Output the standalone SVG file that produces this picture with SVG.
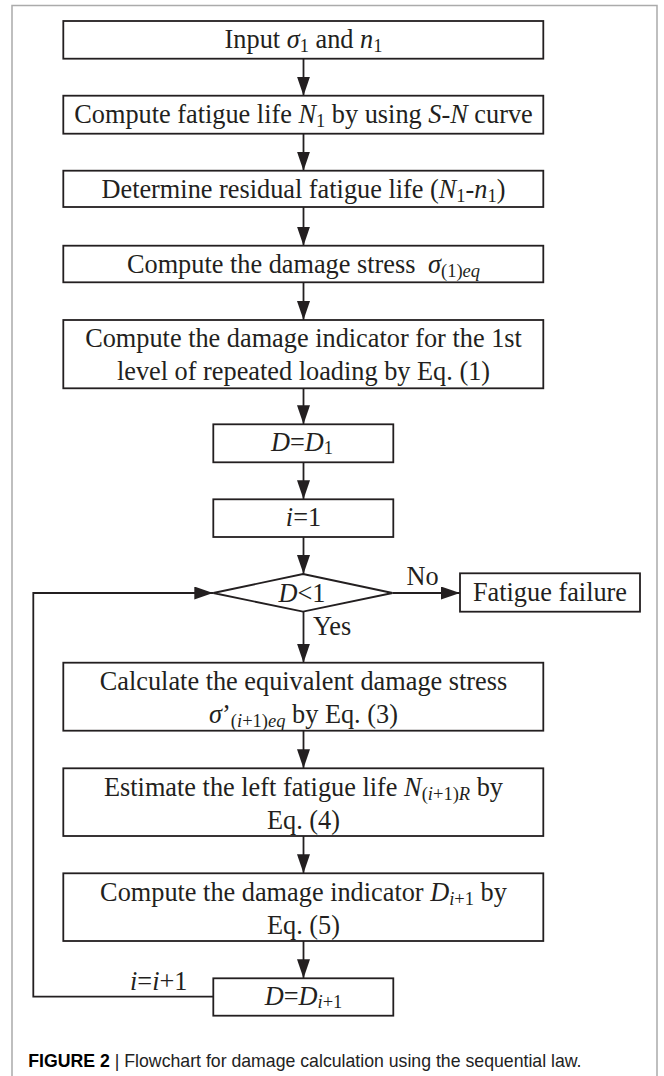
<svg xmlns="http://www.w3.org/2000/svg" width="664" height="1076" viewBox="0 0 664 1076">
<style>
.frame{fill:none;stroke:#ababab;stroke-width:1.5}
.box{fill:#fff;stroke:#231f20;stroke-width:1.8}
.t{font-family:"Liberation Serif","Times New Roman",serif;font-size:26.3px;fill:#231f20;text-anchor:middle}
.l{font-family:"Liberation Serif","Times New Roman",serif;font-size:26.3px;fill:#231f20}
.i{font-style:italic}
.s{font-size:18.5px}
.conn{fill:none;stroke:#231f20;stroke-width:1.8}
.cap{font-family:"Liberation Sans",Arial,sans-serif;font-size:17.7px;fill:#222}
</style>
<defs>
<marker id="ah" markerUnits="userSpaceOnUse" markerWidth="19" markerHeight="13" refX="19" refY="6.5" orient="auto">
<path d="M0,0 L19,6.5 L0,13 z" fill="#231f20"/>
</marker>
</defs>
<path class="frame" d="M12,1076 V5.5 H657 V1076"/>
<g id="connectors">
<path class="conn" d="M303.5,58.7 V95.7" marker-end="url(#ah)"/>
<path class="conn" d="M303.5,133.7 V170.7" marker-end="url(#ah)"/>
<path class="conn" d="M303.5,207 V245.7" marker-end="url(#ah)"/>
<path class="conn" d="M303.5,282.3 V320" marker-end="url(#ah)"/>
<path class="conn" d="M303.5,388.3 V424.3" marker-end="url(#ah)"/>
<path class="conn" d="M303.5,462.3 V499.3" marker-end="url(#ah)"/>
<path class="conn" d="M303.5,537 V574" marker-end="url(#ah)"/>
<path class="conn" d="M392.5,593 H460" marker-end="url(#ah)"/>
<path class="conn" d="M303.5,611.7 V662.7" marker-end="url(#ah)"/>
<path class="conn" d="M303.5,730.7 V768.3" marker-end="url(#ah)"/>
<path class="conn" d="M303.5,836 V873.3" marker-end="url(#ah)"/>
<path class="conn" d="M303.5,941 V978.3" marker-end="url(#ah)"/>
<path class="conn" d="M213.3,996.7 H33.3 V593 H213.3" marker-end="url(#ah)"/>
<text class="l" x="406.5" y="585">No</text>
<text class="l" x="313" y="635">Yes</text>
<text class="l" x="130" y="990"><tspan class="i">i</tspan>=<tspan class="i">i</tspan>+1</text>
</g>
<g id="n1">
<rect class="box" x="63.3" y="21" width="480" height="37.7"/>
<text class="t" x="303.5" y="48">Input <tspan class="i">σ</tspan><tspan class="s" dy="4">1</tspan><tspan dy="-4"> and </tspan><tspan class="i">n</tspan><tspan class="s" dy="4">1</tspan></text>
</g>
<g id="n2">
<rect class="box" x="63.3" y="95.7" width="480" height="38"/>
<text class="t" x="303.5" y="122.7">Compute fatigue life <tspan class="i">N</tspan><tspan class="s" dy="4">1</tspan><tspan dy="-4"> by using </tspan><tspan class="i">S</tspan>-<tspan class="i">N</tspan> curve</text>
</g>
<g id="n3">
<rect class="box" x="63.3" y="170.7" width="480" height="36.3"/>
<text class="t" x="303.5" y="197.7">Determine residual fatigue life (<tspan class="i">N</tspan><tspan class="s" dy="4">1</tspan><tspan dy="-4">-</tspan><tspan class="i">n</tspan><tspan class="s" dy="4">1</tspan><tspan dy="-4">)</tspan></text>
</g>
<g id="n4">
<rect class="box" x="63.3" y="245.7" width="480" height="36.6"/>
<text class="t" x="303.5" y="272.7">Compute the damage stress <tspan class="i" dx="6">σ</tspan><tspan class="s" dy="4">(1)</tspan><tspan class="s i">eq</tspan></text>
</g>
<g id="n5">
<rect class="box" x="63.3" y="320" width="480" height="68.3"/>
<text class="t" x="303.5" y="347">Compute the damage indicator for the 1st</text>
<text class="t" x="303.5" y="380">level of repeated loading by Eq. (1)</text>
</g>
<g id="n6">
<rect class="box" x="213.3" y="424.3" width="180" height="38"/>
<text class="t" x="302" y="451.3"><tspan class="i">D</tspan>=<tspan class="i">D</tspan><tspan class="s" dy="3">1</tspan></text>
</g>
<g id="n7">
<rect class="box" x="213.3" y="499.3" width="180" height="37.7"/>
<text class="t" x="303.5" y="526.3"><tspan class="i">i</tspan>=1</text>
</g>
<g id="n8">
<polygon class="box" points="303,574 392.5,593 303,611.7 213.3,593"/>
<text class="t" x="302" y="601.7"><tspan class="i">D</tspan>&lt;1</text>
</g>
<g id="n9">
<rect class="box" x="460" y="573.3" width="180" height="38.4"/>
<text class="t" x="550" y="600.5">Fatigue failure</text>
</g>
<g id="n10">
<rect class="box" x="63.3" y="662.7" width="480" height="68"/>
<text class="t" x="303.5" y="690">Calculate the equivalent damage stress</text>
<text class="t" x="303.5" y="723"><tspan class="i">σ</tspan>’<tspan class="s" dy="4">(</tspan><tspan class="s i">i</tspan><tspan class="s">+1)</tspan><tspan class="s i">eq</tspan><tspan dy="-4"> by Eq. (3)</tspan></text>
</g>
<g id="n11">
<rect class="box" x="63.3" y="768.3" width="480" height="67.7"/>
<text class="t" x="303.5" y="795.5">Estimate the left fatigue life <tspan class="i">N</tspan><tspan class="s" dy="4">(</tspan><tspan class="s i">i</tspan><tspan class="s">+1)</tspan><tspan class="s i">R</tspan><tspan dy="-4"> by</tspan></text>
<text class="t" x="303.5" y="828.5">Eq. (4)</text>
</g>
<g id="n12">
<rect class="box" x="63.3" y="873.3" width="480" height="67.7"/>
<text class="t" x="303.5" y="900.5">Compute the damage indicator <tspan class="i">D</tspan><tspan class="s i" dy="4">i</tspan><tspan class="s">+1</tspan><tspan dy="-4"> by</tspan></text>
<text class="t" x="303.5" y="933.5">Eq. (5)</text>
</g>
<g id="n13">
<rect class="box" x="213.3" y="978.3" width="180" height="37.4"/>
<text class="t" x="303.5" y="1005.3"><tspan class="i">D</tspan>=<tspan class="i">D</tspan><tspan class="s i" dy="3">i</tspan><tspan class="s">+1</tspan></text>
</g>
<text class="cap" x="28.3" y="1066.5"><tspan font-weight="bold" fill="#000">FIGURE 2</tspan> | Flowchart for damage calculation using the sequential law.</text>
</svg>
